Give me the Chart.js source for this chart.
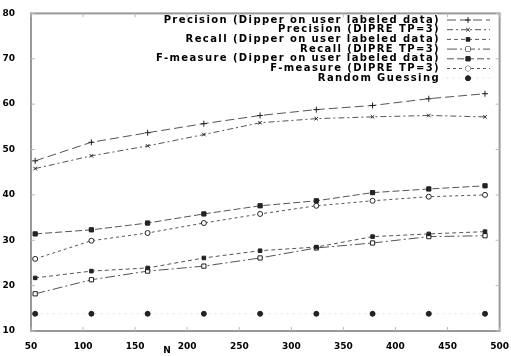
<!DOCTYPE html>
<html>
<head>
<meta charset="UTF-8">
<script src="https://cdn.jsdelivr.net/npm/chart.js"></script>
<style>
  body { margin: 0; background: #fff; }
  #wrap { width: 511px; height: 356px; }
</style>
</head>
<body>
<div id="wrap"><canvas id="chart" width="511" height="356"></canvas></div>
<script>
// sample sizes (x) and series values
const sizes = [54, 108, 162, 216, 270, 324, 378, 432, 486];
const precisionDipper = [47.5, 51.6, 53.7, 55.7, 57.5, 58.8, 59.7, 61.2, 62.3];
const precisionDipre  = [45.8, 48.6, 50.8, 53.3, 55.9, 56.8, 57.2, 57.5, 57.2];
const recallDipper    = [21.7, 23.2, 23.9, 26.1, 27.7, 28.5, 30.8, 31.4, 31.9];
const recallDipre     = [18.2, 21.3, 23.2, 24.3, 26.1, 28.3, 29.4, 30.8, 31.0];
const fDipper         = [31.4, 32.3, 33.8, 35.8, 37.6, 38.7, 40.5, 41.3, 42.0];
const fDipre          = [25.9, 29.9, 31.6, 33.8, 35.8, 37.6, 38.7, 39.6, 40.0];
const randomGuess     = [13.8, 13.8, 13.8, 13.8, 13.8, 13.8, 13.8, 13.8, 13.8];

const seriesNames = [
  "Precision (Dipper on user labeled data)",
  "Precision (DIPRE TP=3)",
  "Recall (Dipper on user labeled data)",
  "Recall (DIPRE TP=3)",
  "F-measure (Dipper on user labeled data)",
  "F-measure (DIPRE TP=3)",
  "Random Guessing"
];
const xTicks = [50, 100, 150, 200, 250, 300, 350, 400, 450, 500];
const yTicks = [10, 20, 30, 40, 50, 60, 70, 80];

const allSeries = [precisionDipper, precisionDipre, recallDipper, recallDipre, fDipper, fDipre, randomGuess];
const dashes = [[9, 4], [6, 3, 2, 3], [4, 3], [10, 3, 2, 3], [7, 3], [3, 3], [1, 5]];
const shapes = ['cross', 'crossRot', 'rect', 'rect', 'rect', 'circle', 'circle'];
const fills = [false, false, true, false, true, false, true];
const sizesPt = [3, 2.5, 2.5, 3, 3, 2.5, 2.5];
const lineCols = ['#555', '#555', '#555', '#555', '#555', '#555', '#ccc'];

const ink = '#222';

const datasets = allSeries.map((vals, i) => ({
  label: seriesNames[i],
  data: sizes.map((x, j) => ({ x, y: vals[j] })),
  borderColor: lineCols[i],
  borderWidth: 1,
  borderDash: dashes[i],
  pointStyle: shapes[i],
  pointRadius: sizesPt[i],
  pointBorderColor: ink,
  pointBorderWidth: 1,
  pointBackgroundColor: fills[i] ? ink : '#fff',
  tension: 0
}));

// frame, inside ticks, legend and axis name
const decor = {
  id: 'decor',
  afterDraw(chart) {
    const { ctx, chartArea: a, scales } = chart;
    ctx.save();
    ctx.strokeStyle = '#999';
    ctx.lineWidth = 2;
    ctx.setLineDash([]);
    ctx.strokeRect(a.left, a.top, a.right - a.left, a.bottom - a.top);
    ctx.lineWidth = 1;
    ctx.strokeStyle = '#bbb';
    xTicks.forEach(v => {
      const x = scales.x.getPixelForValue(v);
      ctx.beginPath(); ctx.moveTo(x, a.bottom); ctx.lineTo(x, a.bottom - 4); ctx.stroke();
      ctx.beginPath(); ctx.moveTo(x, a.top); ctx.lineTo(x, a.top + 4); ctx.stroke();
    });
    yTicks.forEach(v => {
      const y = scales.y.getPixelForValue(v);
      ctx.beginPath(); ctx.moveTo(a.left, y); ctx.lineTo(a.left + 4, y); ctx.stroke();
      ctx.beginPath(); ctx.moveTo(a.right, y); ctx.lineTo(a.right - 4, y); ctx.stroke();
    });

    // legend
    ctx.font = 'bold 10px "DejaVu Sans"';
    ctx.letterSpacing = '1.4px';
    ctx.textAlign = 'right';
    ctx.textBaseline = 'middle';
    chart.data.datasets.forEach((ds, i) => {
      const y = 20 + i * 9.7;
      ctx.fillStyle = '#000';
      ctx.fillText(ds.label, 440, y);
      ctx.strokeStyle = ds.borderColor;
      ctx.lineWidth = 1;
      ctx.setLineDash(ds.borderDash);
      ctx.beginPath(); ctx.moveTo(447, y); ctx.lineTo(490, y); ctx.stroke();
      ctx.setLineDash([]);
      ctx.strokeStyle = ink;
      ctx.fillStyle = ds.pointBackgroundColor;
      Chart.helpers.drawPoint(ctx, { pointStyle: ds.pointStyle, radius: ds.pointRadius, borderWidth: 1, rotation: 0 }, 468, y);
      if (ds.pointStyle === 'rect' || ds.pointStyle === 'circle') ctx.fill();
    });

    ctx.letterSpacing = '0px';
    ctx.fillStyle = '#000';
    ctx.textAlign = 'center';
    ctx.font = 'bold 9px "DejaVu Sans"';
    ctx.fillText('N', 167, 351);
    ctx.restore();
  }
};

new Chart(document.getElementById('chart'), {
  type: 'line',
  data: { datasets },
  options: {
    responsive: false,
    animation: false,
    layout: { padding: { left: 0, right: 4, top: 13, bottom: 0 } },
    plugins: { legend: { display: false }, tooltip: { enabled: false } },
    scales: {
      x: {
        type: 'linear', min: 50, max: 500,
        afterBuildTicks: s => { s.ticks = xTicks.map(v => ({ value: v })); },
        grid: { display: false },
        border: { display: false },
        ticks: { color: '#000', font: { family: 'DejaVu Sans', size: 9, weight: 'bold' }, padding: 2, maxRotation: 0 },
        afterFit: s => { s.height = 25; }
      },
      y: {
        type: 'linear', min: 10, max: 80,
        afterBuildTicks: s => { s.ticks = yTicks.map(v => ({ value: v })); },
        grid: { display: false },
        border: { display: false },
        ticks: { color: '#000', font: { family: 'DejaVu Sans', size: 9, weight: 'bold' }, padding: 8 },
        afterFit: s => { s.width = 31; }
      }
    }
  },
  plugins: [decor]
});
</script>
</body>
</html>
